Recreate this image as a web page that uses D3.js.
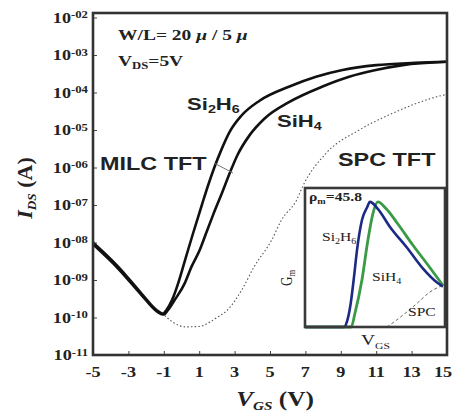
<!DOCTYPE html>
<html>
<head>
<meta charset="utf-8">
<script src="https://cdn.jsdelivr.net/npm/d3@7/dist/d3.min.js"></script>
<style>
  html, body { margin: 0; padding: 0; background: #fff; }
  svg { display: block; }
  .serif { font-family: "Liberation Serif", "DejaVu Serif", serif; }
  .sans { font-family: "Liberation Sans", Arial, sans-serif; }
</style>
</head>
<body>
<svg id="chart" width="453" height="417"></svg>
<script>
// Transfer curves, log10(I_DS) vs V_GS
const vgsSi2H6 = [-5, -3.57, -2.26, -1.41, -1.05, -0.85, -0.53, -0.19, 0.09, 0.37, 0.65, 1.15, 1.5, 1.87, 2.25, 2.72, 3.38, 4.41, 6.1, 7.6, 9.1, 11, 13.2, 15];
const logSi2H6 = [-8.0, -8.65, -9.36, -9.8, -9.9, -9.8, -9.53, -9.09, -8.65, -8.2, -7.76, -7.0, -6.48, -5.98, -5.53, -5.05, -4.62, -4.22, -3.84, -3.58, -3.4, -3.27, -3.21, -3.18];

const vgsSiH4 = [-5, -3.57, -2.26, -1.41, -1.0, -0.76, -0.38, 0.18, 0.56, 1.03, 1.4, 1.78, 2.27, 2.75, 3.17, 3.83, 4.68, 6.1, 7.97, 9.47, 10.98, 12.5, 15];
const logSiH4 = [-8.05, -8.7, -9.4, -9.83, -9.92, -9.8, -9.53, -9.09, -8.65, -8.2, -7.74, -7.27, -6.7, -6.12, -5.66, -5.15, -4.7, -4.25, -3.84, -3.58, -3.4, -3.27, -3.18];

const vgsSPC = [-1.1, -0.5, 0.2, 1.0, 1.5, 2.0, 2.6, 3.4, 4.1, 5.1, 5.65, 6.5, 6.85, 8.17, 10.04, 11.9, 14.8, 15];
const logSPC = [-9.88, -10.12, -10.25, -10.24, -10.15, -10.0, -9.8, -9.27, -8.65, -7.93, -7.4, -6.87, -6.5, -5.62, -5.0, -4.56, -4.07, -4.05];

const xTicks = [-5, -3, -1, 1, 3, 5, 7, 9, 11, 13, 15];
const yTickExp = [-2, -3, -4, -5, -6, -7, -8, -9, -10, -11];

// Inset: transconductance (normalised) vs V_GS (arbitrary units 0-100)
const insetSi2H6U = [0, 28, 30, 32.5, 35, 37.1, 40.7, 44.3, 46.4, 52, 60.7, 72.9, 84.3, 94.3, 98.5];
const insetSi2H6G = [0, 0, 0.04, 0.16, 0.36, 0.55, 0.77, 0.86, 0.9, 0.85, 0.72, 0.57, 0.42, 0.32, 0.29];
const insetSiH4U = [0, 33, 35.7, 40.7, 45, 48.6, 52, 58, 65.7, 77, 89, 98.5];
const insetSiH4G = [0, 0, 0.1, 0.34, 0.63, 0.82, 0.9, 0.85, 0.75, 0.59, 0.43, 0.30];
const insetSPCU = [58.6, 68, 80, 89, 98.5];
const insetSPCG = [0, 0.07, 0.17, 0.25, 0.30];

const SX = 1.3; // the figure is stretched horizontally
const svg = d3.select('#chart');
const frame = { left: 93, right: 447, top: 13, bottom: 355 };

const x = d3.scaleLinear().domain([-5, 15]).range([frame.left, frame.right]);
const y = d3.scaleLog().domain([1e-11, Math.pow(10, -1.88)]).range([frame.bottom, frame.top]);

const zip = (a, b) => a.map((v, i) => [v, b[i]]);
const line = d3.line()
  .x((d) => x(d[0]))
  .y((d) => y(Math.pow(10, d[1])))
  .curve(d3.curveMonotoneX);

// text helper with horizontal stretch
function label(g, px, py, cls, size, weight, parts, opts = {}) {
  const t = g.append('text')
    .attr('class', cls)
    .attr('transform', `translate(${px},${py}) scale(${opts.sx || SX},1)${opts.rotate ? ` rotate(${opts.rotate})` : ''}`)
    .attr('font-size', size)
    .attr('font-weight', weight)
    .attr('text-anchor', opts.anchor || 'start')
    .attr('fill', opts.fill || '#222');
  parts.forEach((p) => {
    const s = t.append('tspan').text(p.t);
    if (p.sub) s.attr('baseline-shift', p.shift || '-30%').attr('font-size', size * (p.scale || 0.65));
    if (p.sup) s.attr('baseline-shift', '45%').attr('font-size', size * (p.scale || 0.65));
    if (p.italic) s.attr('font-style', 'italic');
  });
  return t;
}

// curves
const curves = svg.append('g');
curves.append('path')
  .attr('d', line(zip(vgsSPC, logSPC)))
  .attr('fill', 'none')
  .attr('stroke', '#555')
  .attr('stroke-width', 1.1)
  .attr('stroke-dasharray', '1.5,2.2');
curves.append('path')
  .attr('d', line(zip(vgsSiH4, logSiH4)))
  .attr('fill', 'none')
  .attr('stroke', '#111')
  .attr('stroke-width', 2.6);
curves.append('path')
  .attr('d', line(zip(vgsSi2H6, logSi2H6)))
  .attr('fill', 'none')
  .attr('stroke', '#111')
  .attr('stroke-width', 2.6);

// small bracket between the MILC curves
curves.append('line')
  .attr('x1', 214).attr('y1', 163).attr('x2', 233).attr('y2', 173)
  .attr('stroke', '#777').attr('stroke-width', 1);

// inset
const inset = { left: 305, right: 445, top: 188, bottom: 327 };
svg.append('rect')
  .attr('x', inset.left - 1).attr('y', inset.top - 1)
  .attr('width', frame.right - inset.left + 1).attr('height', frame.bottom - inset.top)
  .attr('fill', '#fff');

const ix = d3.scaleLinear().domain([0, 100]).range([inset.left, inset.right]);
const iy = d3.scaleLinear().domain([0, 1]).range([inset.bottom, inset.top]);
const iline = d3.line().x((d) => ix(d[0])).y((d) => iy(d[1])).curve(d3.curveMonotoneX);

const ig = svg.append('g');
ig.append('path')
  .attr('d', iline(zip(insetSPCU, insetSPCG)))
  .attr('fill', 'none').attr('stroke', '#666').attr('stroke-width', 1)
  .attr('stroke-dasharray', '3,2.5');
ig.append('path')
  .attr('d', iline(zip(insetSiH4U, insetSiH4G)))
  .attr('fill', 'none').attr('stroke', '#3a9a45').attr('stroke-width', 2.8);
ig.append('path')
  .attr('d', iline(zip(insetSi2H6U, insetSi2H6G)))
  .attr('fill', 'none').attr('stroke', '#1c2a85').attr('stroke-width', 2.6);
ig.append('rect')
  .attr('x', inset.left).attr('y', inset.top)
  .attr('width', inset.right - inset.left).attr('height', inset.bottom - inset.top)
  .attr('fill', 'none').attr('stroke', '#3a3a3a').attr('stroke-width', 2.6);

label(ig, 309, 201, 'serif', 12, 'bold', [{ t: 'ρ' }, { t: 'm', sub: true }, { t: '=45.8' }]);
label(ig, 322, 241, 'serif', 12, 'normal', [{ t: 'Si' }, { t: '2', sub: true }, { t: 'H' }, { t: '6', sub: true }]);
label(ig, 372, 281, 'serif', 12, 'normal', [{ t: 'SiH' }, { t: '4', sub: true }]);
label(ig, 408, 316, 'serif', 12, 'normal', [{ t: 'SPC' }]);
label(ig, 361, 345, 'serif', 15, 'normal', [{ t: 'V' }, { t: 'GS', sub: true, shift: '-45%', scale: 0.6 }]);
label(ig, 292, 278, 'serif', 13, 'normal', [{ t: 'G' }, { t: 'm', sub: true }], { rotate: -90, anchor: 'middle' });

// axes
const ax = svg.append('g');
const xAxis = d3.axisBottom(x).tickValues(xTicks).tickSize(-4).tickFormat('');
ax.append('g').attr('transform', `translate(0,${frame.bottom})`).call(xAxis)
  .call((g) => g.select('.domain').remove())
  .call((g) => g.selectAll('line').attr('stroke', '#444'));
const yAxis = d3.axisLeft(y).tickValues(yTickExp.map((e) => Math.pow(10, e))).tickSize(-4).tickFormat('');
ax.append('g').attr('transform', `translate(${frame.left},0)`).call(yAxis)
  .call((g) => g.select('.domain').remove())
  .call((g) => g.selectAll('line').attr('stroke', '#444'));

ax.append('rect')
  .attr('x', frame.left).attr('y', frame.top)
  .attr('width', frame.right - frame.left).attr('height', frame.bottom - frame.top)
  .attr('fill', 'none').attr('stroke', '#333').attr('stroke-width', 2.6);

// tick labels
xTicks.forEach((v) => {
  const px = Math.min(x(v), 443);
  label(ax, px, 377, 'serif', 14, 'bold', [{ t: String(v) }], { anchor: 'middle' });
});
yTickExp.forEach((e) => {
  const ex = e > -10 ? '-0' + Math.abs(e) : String(e);
  label(ax, 88, y(Math.pow(10, e)) + 5, 'serif', 14, 'bold', [{ t: '10' }, { t: ex, sup: true, scale: 0.7 }], { anchor: 'end' });
});

// axis titles
label(ax, 275, 406, 'serif', 22, 'bold', [{ t: 'V', italic: true }, { t: 'GS', sub: true, italic: true, scale: 0.6 }, { t: ' (V)' }], { anchor: 'middle', sx: 1.15 });
label(ax, 32, 188, 'serif', 22, 'bold', [{ t: 'I', italic: true }, { t: 'DS', sub: true, italic: true, scale: 0.6 }, { t: ' (A)' }], { anchor: 'middle', rotate: -90, sx: 1.0 });

// annotations
label(ax, 118, 40, 'serif', 15, 'bold', [{ t: 'W/L= 20 ' }, { t: 'μ', italic: true }, { t: ' / 5 ' }, { t: 'μ', italic: true }]);
label(ax, 118, 66, 'serif', 15, 'bold', [{ t: 'V' }, { t: 'DS', sub: true }, { t: '=5V' }]);
label(ax, 187, 110, 'sans', 17, 'bold', [{ t: 'Si' }, { t: '2', sub: true }, { t: 'H' }, { t: '6', sub: true }]);
label(ax, 277, 127, 'sans', 17, 'bold', [{ t: 'SiH' }, { t: '4', sub: true }]);
label(ax, 100, 170, 'sans', 18, 'bold', [{ t: 'MILC TFT' }]);
label(ax, 338, 166, 'sans', 18, 'bold', [{ t: 'SPC TFT' }]);
</script>
</body>
</html>
